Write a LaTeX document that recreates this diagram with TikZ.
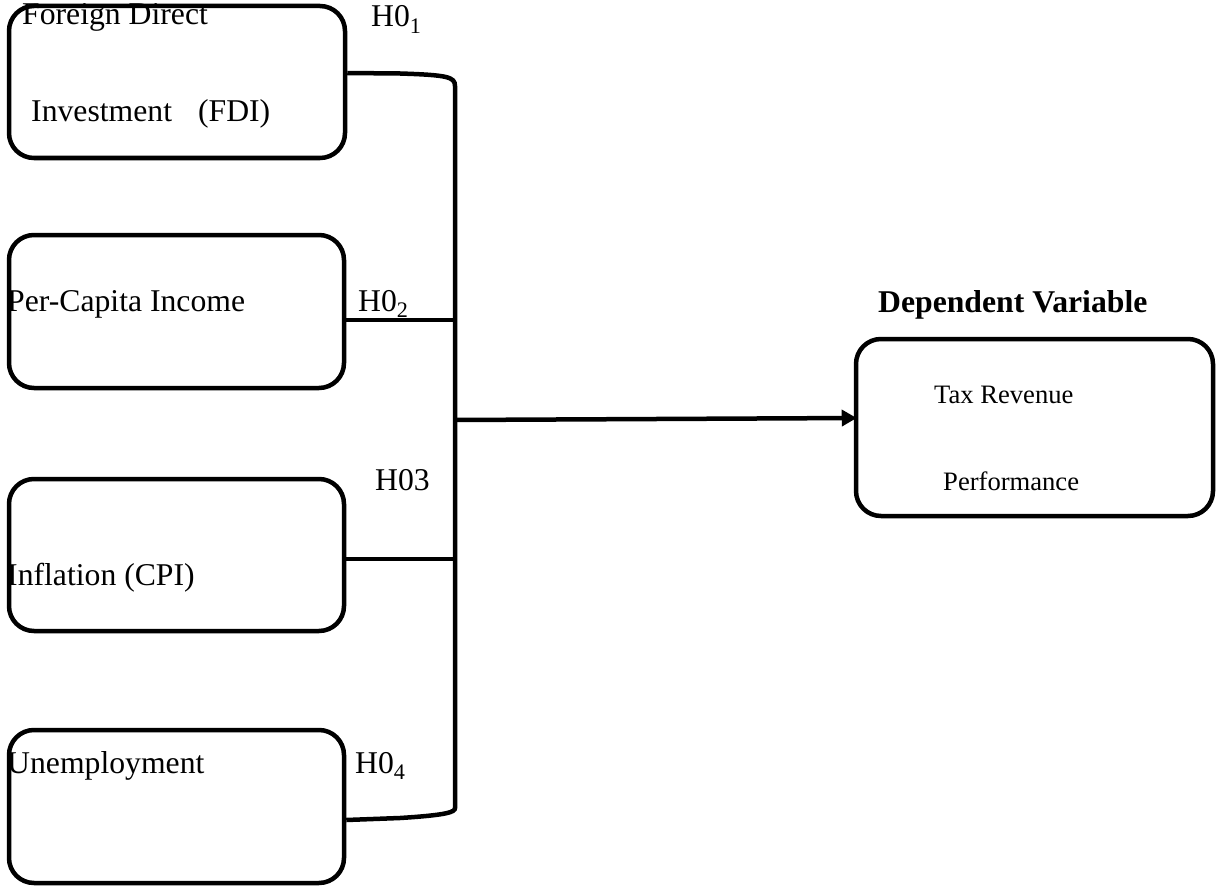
\documentclass[tikz,border=0pt]{standalone}
\usepackage{fontspec}
\setmainfont{Liberation Serif}
\usetikzlibrary{arrows.meta}
\begin{document}
\begin{tikzpicture}[x=1pt,y=-1pt,
  varbox/.style={draw=black,line width=4.5pt,rounded corners=25pt,inner sep=0pt,fill=none},
  lbl/.style={anchor=base west,inner sep=0pt,font=\fontsize{31.7}{38}\selectfont},
  smalllbl/.style={anchor=base west,inner sep=0pt,font=\fontsize{26.6}{32}\selectfont},
  conn/.style={draw=black,line width=4.5pt},
]
\useasboundingbox (0,0) rectangle (1218,888);
% boxes
\node[varbox,minimum width=336pt,minimum height=152pt] (fdi) at (177,82) {};
\node[varbox,minimum width=335pt,minimum height=153pt] (pci) at (176.5,311.5) {};
\node[varbox,minimum width=335pt,minimum height=152pt] (cpi) at (176.5,555) {};
\node[varbox,minimum width=335pt,minimum height=153pt] (unemp) at (176.5,806.5) {};
\node[varbox,minimum width=357pt,minimum height=177pt] (tax) at (1034.5,427.5) {};
% texts
\node[lbl] (t1) at (22,25) {Foreign Direct};
\node[lbl] (t1b) at (31,122) {Investment\hspace{26pt}(FDI)};
\node[lbl] (h1) at (371,27) {H0\textsubscript{1}};
\node[lbl] (t2) at (7,311) {Per-Capita Income};
\node[lbl] (h2) at (358,311) {H0\textsubscript{2}};
\node[lbl] (h3) at (375,490) {H03};
\node[lbl] (t3) at (7,585) {Inflation (CPI)};
\node[lbl] (t4) at (7,773) {Unemployment};
\node[lbl] (h4) at (355,773) {H0\textsubscript{4}};
\node[lbl,font=\fontsize{31.7}{38}\selectfont\bfseries] (dv) at (878,312) {Dependent Variable};
\node[smalllbl] (t5) at (934,403) {Tax Revenue};
\node[smalllbl] (t5b) at (943,490) {Performance};
% bus coordinates
\coordinate (bustop) at (455,86);
\coordinate (busbot) at (455,808);
\coordinate (junc) at (455,420);
% bracket
\draw[conn] ([yshift=9pt]fdi.east) -- (400,73.5) .. controls (448,75) and (455,77) .. (bustop)
  -- (busbot) .. controls (455,812) and (448,815) .. (400,818) -- ([yshift=-13.5pt]unemp.east);
\draw[conn] ([yshift=-8.5pt]pci.east) -- ([yshift=-8.5pt]pci.east -| bustop);
\draw[conn] ([yshift=-4pt]cpi.east) -- ([yshift=-4pt]cpi.east -| bustop);
% arrow
\draw[conn,-{Triangle[length=15pt,width=16pt]}] (junc) -- ([yshift=9.5pt,xshift=3pt]tax.west);
\end{tikzpicture}
\end{document}
